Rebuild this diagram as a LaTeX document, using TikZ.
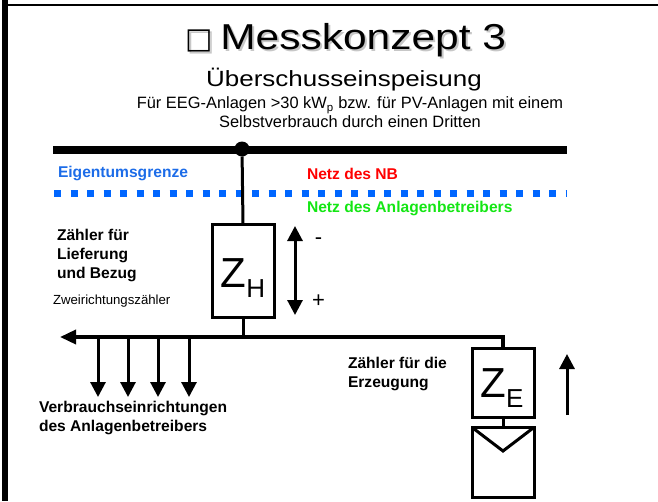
\documentclass[tikz,border=0pt]{standalone}
\usepackage{fontspec}
\setmainfont{Liberation Sans}
\newfontfamily\widefont[FakeStretch=1.18]{Liberation Sans}
\newfontfamily\symfont{DejaVu Sans}
\usetikzlibrary{arrows.meta}

\definecolor{grenzblau}{RGB}{0,102,255}
\definecolor{textblau}{RGB}{28,108,232}
\definecolor{netzrot}{RGB}{255,0,0}
\definecolor{netzgruen}{RGB}{20,230,20}

\newcommand{\zaehlerlabel}[1]{{\fontsize{42}{42}\selectfont Z}\raisebox{-10pt}{\fontsize{26}{26}\selectfont #1}}
\newcommand{\titeltext}{\raisebox{1pt}{\fontsize{29}{29}\symfont □}\hspace{7pt}{\widefont\fontsize{36}{36}\selectfont Messkonzept 3}}

\begin{document}
\begin{tikzpicture}[x=1pt, y=-1pt, line join=miter,
	every node/.style={inner sep=0pt, outer sep=0pt},
	lbl/.style={anchor=west, align=left, font=\bfseries\fontsize{15.6}{19}\selectfont},
	meter/.style={draw, line width=3pt, minimum width=62pt},
	wire/.style={line width=3pt},
	flow/.style={line width=3pt, -{Triangle[width=15pt,length=15pt]}},]

\useasboundingbox (0,0) rectangle (658,501);

% rahmen
\draw[line width=6pt] (5,0) -- (5,501);
\draw[line width=2.5pt] (8,5) -- (658,5);

% titel
\node[anchor=base, text=black!22] (titleshadow) at (348,51.5) {\titeltext};
\node[anchor=base] (title) at (346,49) {\titeltext};
\node[anchor=base, font=\widefont\fontsize{22}{22}\selectfont] (subtitle) at (344,86) {Überschusseinspeisung};
\node[anchor=north, align=center, font=\fontsize{16.4}{18.5}\selectfont] (info) at (350,97) {Für EEG-Anlagen >30 kW\textsubscript{p} bzw. für PV-Anlagen mit einem\\Selbstverbrauch durch einen Dritten};

% netz
\coordinate (busL) at (53,150);
\coordinate (busR) at (567,150);
\draw[line width=8pt] (busL) -- (busR);
\node[circle, fill, minimum size=15pt] (jn) at (242,149) {};

\coordinate (grenzeL) at (54,193);
\coordinate (grenzeR) at (567,193);
\draw[grenzblau, line width=7pt, dash pattern=on 7pt off 9.5pt] (grenzeL) -- (grenzeR);

\node[lbl, text=textblau] (eigentum) at (58,173) {Eigentumsgrenze};
\node[lbl, text=netzrot] (netznb) at (307,174) {Netz des NB};
\node[lbl, text=netzgruen] (netzab) at (307,208) {Netz des Anlagenbetreibers};

% zweirichtungszaehler
\node[meter, minimum height=93pt] (zh) at (243,270.5) {};
\node[anchor=base] (zhtext) at (243,287) {\zaehlerlabel{H}};
\draw[wire] (jn) -- (zh.north);
\node[lbl] (zhlbl) at (57,255) {Zähler für\\Lieferung\\und Bezug};
\node[anchor=west, font=\fontsize{13.2}{15}\selectfont] (zhtyp) at (53,301) {Zweirichtungszähler};

\coordinate (dirT) at (295,226);
\coordinate (dirB) at (295,315);
\draw[line width=3pt, {Triangle[width=15pt,length=15pt]}-{Triangle[width=15pt,length=15pt]}] (dirT) -- (dirB);
\node[font=\fontsize{22}{22}\selectfont] (minus) at (318.5,241) {-};
\node[font=\fontsize{22}{22}\selectfont] (plus) at (318.5,301) {+};

% erzeugungszaehler
\node[meter, minimum height=69pt] (ze) at (503,382.5) {};
\node[anchor=base] (zetext) at (502,397) {\zaehlerlabel{E}};
\node[meter, minimum height=70pt] (pv) at (503,462) {};
\draw[line width=3pt] ([xshift=1.5pt,yshift=-1.5pt]pv.north west) -- ([yshift=-24pt]pv.north) -- ([xshift=-1.5pt,yshift=-1.5pt]pv.north east);
\draw[wire] (ze.south) -- (pv.north);
\node[lbl] (zelbl) at (348,373.5) {Zähler für die\\Erzeugung};

\coordinate (genB) at (567,415);
\coordinate (genT) at (567,354);
\draw[flow] (genB) -- (genT);

% verbraucher
\coordinate (lbR) at (503,337);
\coordinate (lbL) at (60,337);
\draw[wire] (zh.south) -- (zh.south |- lbR);
\draw[line width=3.5pt, -{Triangle[width=14pt,length=16pt]}] (ze.north) |- (lbL);
\foreach \x [count=\i] in {98,128,158,189} {
	\coordinate (tap\i) at (\x,337);
	\coordinate (load\i) at (\x,397);
	\draw[flow] (tap\i) -- (load\i);
}
\node[lbl] (verbrauch) at (39,417.5) {Verbrauchseinrichtungen\\des Anlagenbetreibers};

\end{tikzpicture}
\end{document}
